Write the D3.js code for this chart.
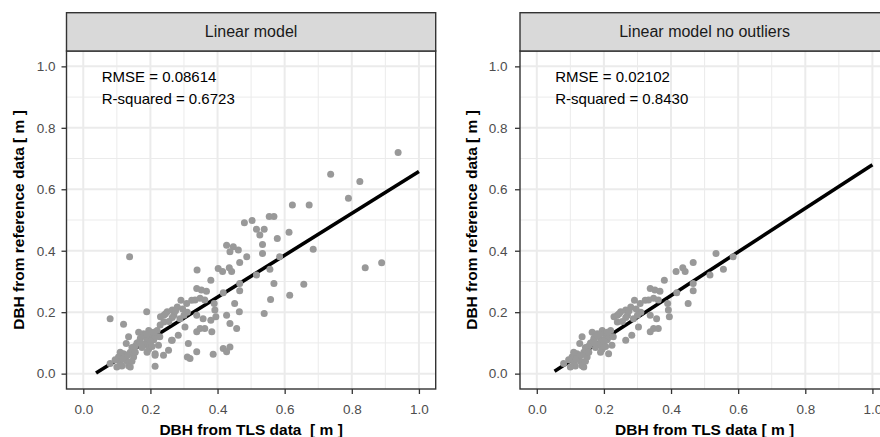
<!DOCTYPE html>
<html>
<head>
<meta charset="utf-8">
<script src="https://cdn.jsdelivr.net/npm/d3@7"></script>
<style>
  body { margin: 0; background: #fff; }
  svg { display: block; }
  text { font-family: "Liberation Sans", Arial, sans-serif; }
</style>
</head>
<body>
<script>
/* DATA */
var stripTitles = ['Linear model', 'Linear model no outliers'];
var xTitles = ['DBH from TLS data  [ m ]', 'DBH from TLS data [ m ]'];
var yTitle = 'DBH from reference data [ m ]';
var rmseLabels = ['RMSE = 0.08614', 'RMSE = 0.02102'];
var r2Labels = ['R-squared = 0.6723', 'R-squared = 0.8430'];
var tickValues = [0, 0.2, 0.4, 0.6, 0.8, 1.0];
var minorValues = [0.1, 0.3, 0.5, 0.7, 0.9];

// trees kept in both models
var inlierX = [0.585, 0.534, 0.556, 0.516, 0.466, 0.435, 0.442, 0.415, 0.380, 0.466,
  0.466, 0.451, 0.417, 0.390, 0.392, 0.395, 0.338, 0.352, 0.367, 0.348,
  0.362, 0.333, 0.357, 0.338, 0.338, 0.348, 0.362, 0.303, 0.283, 0.265,
  0.323, 0.308, 0.291, 0.280, 0.265, 0.250, 0.240, 0.230, 0.270, 0.288,
  0.310, 0.296, 0.240, 0.214, 0.224, 0.128, 0.135, 0.165, 0.180, 0.195,
  0.205, 0.170, 0.190, 0.210, 0.160, 0.185, 0.200, 0.215, 0.220, 0.175,
  0.195, 0.190, 0.155, 0.145, 0.150, 0.210, 0.200, 0.080, 0.105, 0.110,
  0.120, 0.115, 0.130, 0.135, 0.140, 0.100, 0.150, 0.140, 0.155, 0.125,
  0.110, 0.145, 0.095, 0.265, 0.255, 0.275, 0.300, 0.178, 0.188, 0.168,
  0.118, 0.132, 0.205, 0.172, 0.228, 0.245];
var inlierY = [0.380, 0.391, 0.340, 0.321, 0.362, 0.345, 0.332, 0.332, 0.304, 0.293,
  0.270, 0.228, 0.263, 0.228, 0.207, 0.185, 0.277, 0.272, 0.268, 0.245,
  0.240, 0.240, 0.179, 0.190, 0.136, 0.147, 0.147, 0.152, 0.125, 0.109,
  0.239, 0.228, 0.239, 0.217, 0.207, 0.201, 0.190, 0.185, 0.190, 0.179,
  0.200, 0.210, 0.168, 0.065, 0.092, 0.098, 0.120, 0.135, 0.130, 0.140,
  0.125, 0.115, 0.110, 0.110, 0.100, 0.095, 0.095, 0.120, 0.140, 0.085,
  0.080, 0.070, 0.090, 0.085, 0.070, 0.135, 0.105, 0.033, 0.054, 0.038,
  0.065, 0.025, 0.040, 0.026, 0.022, 0.022, 0.054, 0.070, 0.070, 0.055,
  0.070, 0.040, 0.045, 0.183, 0.170, 0.205, 0.190, 0.122, 0.128, 0.105,
  0.048, 0.060, 0.088, 0.100, 0.120, 0.195];

// trees only in the full model
var outlierX = [0.938, 0.737, 0.824, 0.790, 0.623, 0.673, 0.554, 0.568, 0.480, 0.503,
  0.516, 0.539, 0.526, 0.613, 0.578, 0.534, 0.138, 0.889, 0.840, 0.685,
  0.427, 0.447, 0.437, 0.462, 0.487, 0.339, 0.402, 0.568, 0.657, 0.615,
  0.558, 0.539, 0.465, 0.457, 0.437, 0.427, 0.383, 0.313, 0.310, 0.318,
  0.338, 0.387, 0.417, 0.427, 0.437, 0.239, 0.254, 0.214, 0.189, 0.120,
  0.080, 0.263, 0.380, 0.214, 0.229];
var outlierY = [0.720, 0.649, 0.625, 0.571, 0.549, 0.549, 0.511, 0.511, 0.491, 0.498,
  0.470, 0.470, 0.451, 0.460, 0.440, 0.420, 0.380, 0.361, 0.345, 0.405,
  0.418, 0.413, 0.397, 0.402, 0.380, 0.337, 0.342, 0.293, 0.291, 0.255,
  0.241, 0.196, 0.201, 0.147, 0.163, 0.190, 0.136, 0.098, 0.054, 0.049,
  0.071, 0.063, 0.082, 0.071, 0.087, 0.060, 0.076, 0.024, 0.201, 0.161,
  0.179, 0.109, 0.174, 0.060, 0.158];

// fitted lines (start / end)
var fitAllX = [0.038, 1.0], fitAllY = [0.002, 0.658];
var fitCleanX = [0.053, 1.0], fitCleanY = [0.008, 0.680];

/* LAYOUT */
var width = 880, height = 437;
var stripTop = 12.7, panelTop = 51, panelBottom = 389;

var svg = d3.select('body').append('svg')
    .attr('width', width)
    .attr('height', height);

svg.append('rect').attr('width', width).attr('height', height).attr('fill', 'white');

var allX = inlierX.concat(outlierX);
var allY = inlierY.concat(outlierY);

var plots = [
  { left: 66.5, right: 435.7, px: allX, py: allY, fx: fitAllX, fy: fitAllY,
    yTitleX: 19, labelPad: 6 },
  { left: 520, right: 889.2, px: inlierX, py: inlierY, fx: fitCleanX, fy: fitCleanY,
    yTitleX: 472, labelPad: 7.5 }
];

plots.forEach(function(p, i) {
  var g = svg.append('g');
  var x = d3.scaleLinear().domain([-0.05, 1.05]).range([p.left, p.right]);
  var y = d3.scaleLinear().domain([-0.05, 1.05]).range([panelBottom, panelTop]);

  // minor + major grid
  g.selectAll('.minorV').data(minorValues).enter().append('line')
    .attr('x1', d => x(d)).attr('x2', d => x(d))
    .attr('y1', panelTop).attr('y2', panelBottom)
    .attr('stroke', '#ebebeb').attr('stroke-width', 1);
  g.selectAll('.minorH').data(minorValues).enter().append('line')
    .attr('y1', d => y(d)).attr('y2', d => y(d))
    .attr('x1', p.left).attr('x2', p.right)
    .attr('stroke', '#ebebeb').attr('stroke-width', 1);
  g.selectAll('.majorV').data(tickValues).enter().append('line')
    .attr('x1', d => x(d)).attr('x2', d => x(d))
    .attr('y1', panelTop).attr('y2', panelBottom)
    .attr('stroke', '#ebebeb').attr('stroke-width', 2);
  g.selectAll('.majorH').data(tickValues).enter().append('line')
    .attr('y1', d => y(d)).attr('y2', d => y(d))
    .attr('x1', p.left).attr('x2', p.right)
    .attr('stroke', '#ebebeb').attr('stroke-width', 2);

  // fitted line under the points
  g.append('line')
    .attr('x1', x(p.fx[0])).attr('y1', y(p.fy[0]))
    .attr('x2', x(p.fx[1])).attr('y2', y(p.fy[1]))
    .attr('stroke', 'black').attr('stroke-width', 3.6);

  g.selectAll('circle').data(p.px).enter().append('circle')
    .attr('cx', d => x(d))
    .attr('cy', (d, j) => y(p.py[j]))
    .attr('r', 3.5)
    .attr('fill', '#999999');

  // stats text
  g.append('text').attr('x', x(0.055)).attr('y', y(0.967) + 5)
    .attr('font-size', 15).attr('fill', 'black').text(rmseLabels[i]);
  g.append('text').attr('x', x(0.055)).attr('y', y(0.893) + 5)
    .attr('font-size', 15).attr('fill', 'black').text(r2Labels[i]);

  // panel border
  g.append('rect')
    .attr('x', p.left).attr('y', panelTop)
    .attr('width', p.right - p.left).attr('height', panelBottom - panelTop)
    .attr('fill', 'none').attr('stroke', '#333333').attr('stroke-width', 1.4);

  // strip
  g.append('rect')
    .attr('x', p.left).attr('y', stripTop)
    .attr('width', p.right - p.left).attr('height', panelTop - stripTop)
    .attr('fill', '#d9d9d9').attr('stroke', '#333333').attr('stroke-width', 1.4);
  g.append('text')
    .attr('x', (p.left + p.right) / 2).attr('y', (stripTop + panelTop) / 2 + 5.5)
    .attr('text-anchor', 'middle').attr('font-size', 16).attr('fill', '#1a1a1a')
    .text(stripTitles[i]);

  // axes
  var xAxis = g.append('g').attr('transform', `translate(0,${panelBottom})`)
    .call(d3.axisBottom(x).tickValues(tickValues).tickSize(5).tickPadding(10)
      .tickFormat(d3.format('.1f')));
  var yAxis = g.append('g').attr('transform', `translate(${p.left},0)`)
    .call(d3.axisLeft(y).tickValues(tickValues).tickSize(5).tickPadding(p.labelPad)
      .tickFormat(d3.format('.1f')));
  [xAxis, yAxis].forEach(function(ax) {
    ax.select('.domain').remove();
    ax.selectAll('line').attr('stroke', '#333333').attr('stroke-width', 1.3);
    ax.selectAll('text').attr('fill', '#4d4d4d').attr('font-size', 13.5)
      .attr('font-family', '"Liberation Sans", Arial, sans-serif');
  });

  // axis titles
  g.append('text')
    .attr('x', (p.left + p.right) / 2).attr('y', 435)
    .attr('text-anchor', 'middle').attr('font-size', 15.5).attr('font-weight', 'bold')
    .style('white-space', 'pre')
    .text(xTitles[i]);
  g.append('text')
    .attr('transform', `translate(${p.yTitleX + 5},${(panelTop + panelBottom) / 2}) rotate(-90)`)
    .attr('text-anchor', 'middle').attr('font-size', 15.5).attr('font-weight', 'bold')
    .text(yTitle);
});
</script>
</body>
</html>
